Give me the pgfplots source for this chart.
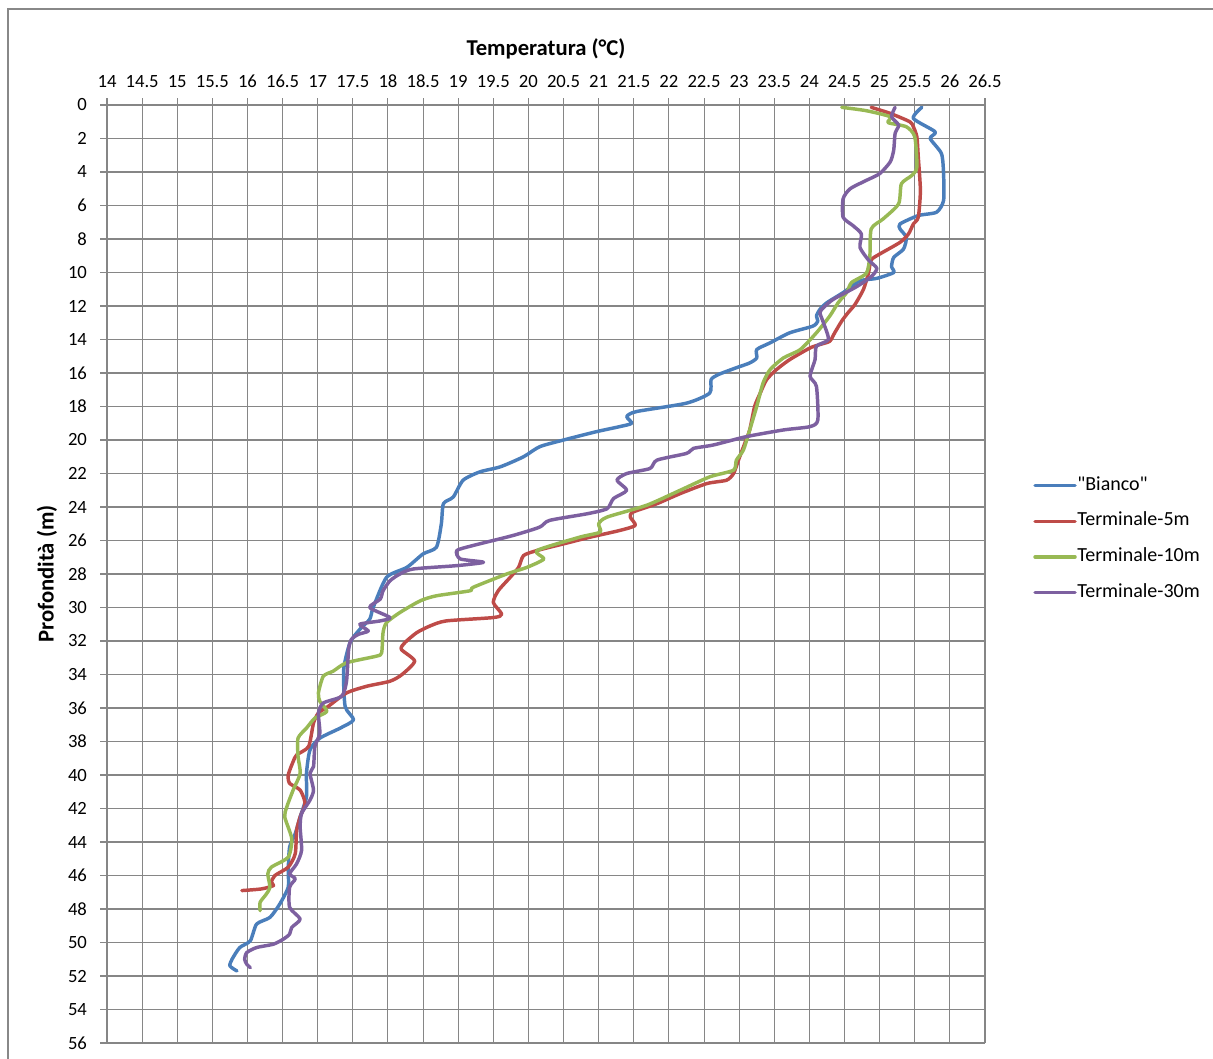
\documentclass[border=0pt]{standalone}
\usepackage{fontspec}
\setmainfont{Carlito}[Ligatures=TeXOff]
\usepackage{pgfplots}
\pgfplotsset{compat=1.18}

\definecolor{gridgray}{RGB}{134,134,134}
\definecolor{framegray}{RGB}{136,136,136}
\definecolor{sblue}{RGB}{74,126,187}
\definecolor{sred}{RGB}{190,75,72}
\definecolor{sgreen}{RGB}{152,185,84}
\definecolor{spurple}{RGB}{125,96,160}

\begin{document}
\begin{tikzpicture}
% page and chart-area frame
\path[use as bounding box] (0pt,0pt) rectangle (909.75pt,794.25pt);
\draw[framegray, line width=1.1pt] (6pt,-20pt) rectangle (940pt,787.5pt);

\begin{axis}[
  at={(80.25pt,12pt)}, anchor=south west,
  scale only axis, width=658.5pt, height=703.5pt,
  xmin=14, xmax=26.5, ymin=0, ymax=56,
  y dir=reverse,
  xtick={14,14.5,...,26.5}, ytick={0,2,...,56},
  axis x line*=top, axis y line*=left,
  axis line style={gridgray, line width=0.8pt, -},
  tick style={gridgray, line width=0.8pt},
  tick align=outside, major tick length=5pt,
  grid=major, major grid style={gridgray, line width=0.8pt},
  /pgf/number format/assume math mode=true,
  xticklabel style={font=\fontsize{14}{16}\selectfont, text=black, yshift=4.5pt},
  yticklabel style={font=\fontsize{14}{16}\selectfont, text=black, xshift=-6.5pt},
  xlabel={Temperatura (°C)},
  ylabel={Profondità (m)},
  every axis x label/.style={at={(axis description cs:0.5,1)}, anchor=center, yshift=42pt, font=\bfseries\fontsize{17}{20}\selectfont},
  every axis y label/.style={at={(axis description cs:0,0.5)}, anchor=center, rotate=90, yshift=45pt, font=\bfseries\fontsize{17}{20}\selectfont},
  legend cell align=left,
  legend style={at={(axis description cs:1.0547,0.5372)}, anchor=west, draw=none, fill=none, inner sep=0pt,
    font=\fontsize{15}{18}\selectfont, row sep=13pt,
    nodes={inner sep=0.4pt, text height=10pt, text depth=3pt}},
  legend image code/.code={\draw[#1] (0pt,0pt) -- (30pt,0pt);},
  every axis plot/.append style={line width=2.6pt, smooth, tension=0.4, line join=round, line cap=round},
  clip=false,
]

\addplot[sblue] coordinates {
(25.60,0.14) (25.48,0.8) (25.79,1.6) (25.72,2.0) (25.88,2.9) (25.91,4.1) (25.91,5.7)
(25.81,6.4) (25.55,6.6) (25.29,7.1) (25.29,7.4) (25.38,7.9) (25.34,8.6) (25.20,9.1)
(25.17,9.65) (25.20,10.0) (24.96,10.35) (24.72,10.5) (24.48,11.2) (24.25,11.8) (24.15,12.2)
(24.10,12.6) (24.12,12.9) (24.05,13.2) (23.72,13.6) (23.44,14.2) (23.25,14.6) (23.25,15.1)
(23.15,15.4) (22.95,15.7) (22.70,16.1) (22.60,16.4) (22.58,17.2) (22.25,17.8) (21.54,18.3)
(21.40,18.6) (21.47,19.0) (21.30,19.2) (20.97,19.5) (20.50,20.0) (20.16,20.4) (19.93,21.0)
(19.60,21.6) (19.31,21.9) (19.07,22.4) (18.93,23.4) (18.79,23.8) (18.76,25.0) (18.69,26.4)
(18.50,26.8) (18.27,27.6) (17.98,28.2) (17.79,30.0) (17.74,30.7) (17.60,31.3) (17.46,32.1)
(17.37,33.7) (17.39,35.9) (17.51,36.7) (17.32,37.2) (17.03,37.8) (16.89,38.5) (16.84,39.9)
(16.84,41.3) (16.75,42.5) (16.68,43.5) (16.60,44.3) (16.58,45.7) (16.58,46.7) (16.46,47.7)
(16.32,48.5) (16.13,48.9) (16.04,49.9) (15.89,50.3) (15.78,51.0) (15.75,51.4) (15.85,51.7)
};
\addlegendentry{"Bianco"}

\addplot[sred] coordinates {
(24.88,0.14) (25.15,0.5) (25.43,1.0) (25.48,1.3) (25.53,1.9) (25.55,3.1) (25.58,5.1)
(25.55,6.7) (25.48,7.1) (25.41,7.7) (25.29,8.2) (25.00,8.9) (24.88,9.25) (24.84,10.05)
(24.77,11.0) (24.65,11.9) (24.55,12.4) (24.46,12.9) (24.36,13.6) (24.29,14.1) (24.15,14.3)
(24.01,14.5) (23.72,15.2) (23.53,15.8) (23.39,16.4) (23.30,17.2) (23.22,18.0) (23.15,19.4)
(23.08,20.2) (22.99,21.2) (22.92,22.0) (22.82,22.4) (22.54,22.6) (22.16,23.2) (21.83,23.8)
(21.49,24.3) (21.45,24.6) (21.52,25.1) (21.30,25.4) (20.88,25.8) (20.50,26.2) (20.12,26.6)
(19.93,26.9) (19.86,27.6) (19.74,28.2) (19.57,29.0) (19.50,29.7) (19.62,30.4) (19.50,30.6)
(18.83,30.8) (18.60,31.1) (18.41,31.5) (18.24,32.1) (18.19,32.5) (18.38,33.2) (18.20,34.0)
(18.03,34.4) (17.70,34.7) (17.41,35.1) (17.15,35.9) (17.01,36.3) (16.94,36.9) (16.87,38.3)
(16.70,38.8) (16.65,39.2) (16.58,40.0) (16.60,40.5) (16.75,40.9) (16.82,41.7) (16.75,42.5)
(16.70,43.3) (16.68,44.7) (16.58,45.5) (16.39,46.0) (16.34,46.4) (16.37,46.6) (16.20,46.8)
(15.92,46.9)
};
\addlegendentry{Terminale-5m}

\addplot[sgreen] coordinates {
(24.46,0.14) (24.81,0.34) (25.15,0.7) (25.12,1.05) (25.38,1.3) (25.50,1.9) (25.53,3.7)
(25.46,4.2) (25.31,4.7) (25.27,5.9) (25.05,6.8) (24.88,7.4) (24.86,9.05) (24.81,10.05)
(24.60,10.6) (24.53,11.2) (24.41,11.8) (24.29,12.6) (24.10,13.6) (23.87,14.6) (23.63,15.1)
(23.44,15.8) (23.34,16.6) (23.25,18.0) (23.15,19.4) (23.06,20.6) (22.96,21.2) (22.92,21.8)
(22.58,22.2) (22.16,23.0) (21.68,23.9) (21.12,24.6) (21.00,25.0) (21.02,25.5) (20.73,25.8)
(20.12,26.6) (20.22,27.1) (19.98,27.6) (19.69,28.0) (19.21,28.8) (19.17,29.0) (18.69,29.3)
(18.46,29.6) (18.17,30.3) (17.98,30.9) (17.93,31.5) (17.91,32.7) (17.84,32.9) (17.41,33.3)
(17.22,33.8) (17.08,34.1) (17.01,35.1) (17.03,35.6) (17.13,36.2) (16.96,36.6) (16.84,37.2)
(16.72,37.8) (16.72,38.9) (16.75,39.9) (16.65,40.9) (16.56,41.9) (16.53,42.5) (16.63,43.8)
(16.58,44.9) (16.34,45.5) (16.29,45.9) (16.32,46.7) (16.27,47.1) (16.18,47.6) (16.18,48.1)
};
\addlegendentry{Terminale-10m}

\addplot[spurple] coordinates {
(25.22,0.14) (25.17,0.7) (25.27,1.2) (25.22,1.7) (25.20,2.7) (25.15,3.4) (25.00,4.1)
(24.81,4.5) (24.58,5.0) (24.48,5.6) (24.48,6.7) (24.62,7.2) (24.74,7.7) (24.72,8.5)
(24.84,9.25) (24.96,9.75) (24.88,10.25) (24.67,10.85) (24.34,11.6) (24.20,12.1) (24.15,12.4)
(24.20,13.0) (24.27,14.0) (24.10,14.4) (24.08,15.2) (24.01,16.2) (24.10,16.8) (24.12,18.8)
(24.01,19.2) (23.63,19.4) (23.10,19.8) (22.63,20.3) (22.35,20.5) (22.25,20.8) (21.83,21.2)
(21.73,21.7) (21.40,22.0) (21.26,22.4) (21.40,23.0) (21.21,23.5) (21.12,24.1) (20.84,24.4)
(20.30,24.8) (20.16,25.2) (19.78,25.7) (19.21,26.3) (18.98,26.6) (19.03,27.1) (19.36,27.3)
(18.98,27.5) (18.36,27.7) (18.17,28.0) (18.03,28.4) (17.93,29.0) (17.89,29.5) (17.74,30.0)
(18.03,30.6) (17.89,30.8) (17.60,31.0) (17.72,31.4) (17.58,31.6) (17.48,31.9) (17.44,32.5)
(17.41,34.4) (17.34,35.3) (17.08,35.7) (17.01,36.3) (17.03,37.5) (16.96,38.3) (16.94,39.5)
(16.89,39.9) (16.94,40.9) (16.89,41.5) (16.77,42.3) (16.75,43.1) (16.77,44.5) (16.70,45.3)
(16.60,45.9) (16.68,46.2) (16.60,46.7) (16.60,47.9) (16.75,48.6) (16.63,49.1) (16.60,49.5)
(16.51,49.8) (16.37,50.1) (16.13,50.3) (15.99,50.6) (15.96,51.0) (15.99,51.3) (16.04,51.5)
};
\addlegendentry{Terminale-30m}

\end{axis}
\end{tikzpicture}
\end{document}
